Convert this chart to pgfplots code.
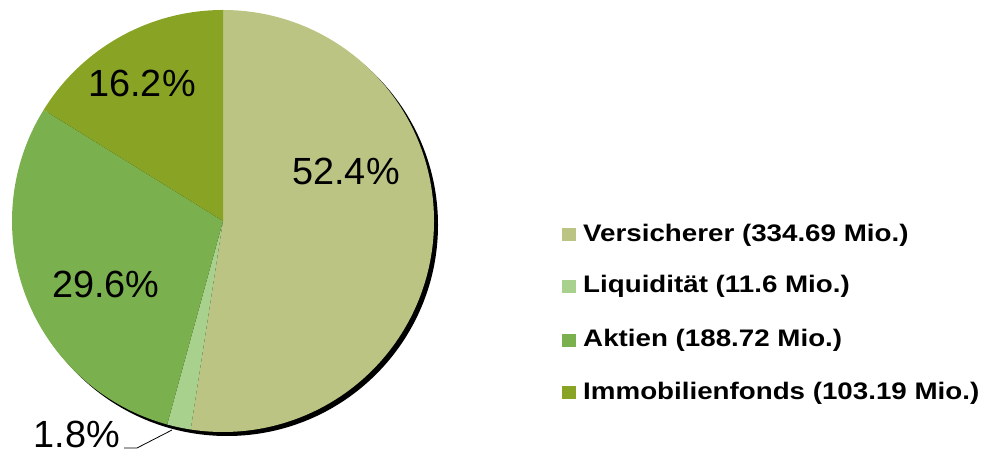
\documentclass[border=0pt]{standalone}
\usepackage{pgfplots}
\pgfplotsset{compat=1.18}
\usepackage{fontspec}
\setmainfont{Liberation Sans}
\definecolor{cVers}{RGB}{188,196,132}
\definecolor{cLiq}{RGB}{169,209,142}
\definecolor{cAkt}{RGB}{122,176,78}
\definecolor{cImm}{RGB}{137,164,36}
% data (Mio.)
\def\vA{334.69}
\def\vB{11.6}
\def\vC{188.72}
\def\vD{103.19}
\pgfmathsetmacro{\tot}{\vA+\vB+\vC+\vD}
\pgfmathsetmacro{\aO}{90}
\pgfmathsetmacro{\aA}{\aO-360*(\vA/\tot)}
\pgfmathsetmacro{\aB}{\aA-360*(\vB/\tot)}
\pgfmathsetmacro{\aC}{\aB-360*(\vC/\tot)}
\pgfmathsetmacro{\aD}{\aC-360*(\vD/\tot)}
\tikzset{legtext/.style={anchor=base west, inner sep=0pt, xscale=1.16, font=\fontsize{24}{28}\selectfont\bfseries}}
\begin{document}
\begin{tikzpicture}
\begin{axis}[
  x=1bp, y=1bp,
  xmin=0, xmax=987, ymin=0, ymax=453,
  y dir=reverse,
  hide axis, clip=false,
]
\path (axis cs:0,0) rectangle (axis cs:987,453);
% shadow
\fill[black] (axis cs:227,225) circle[radius=211bp];
% slices
\fill[cVers] (axis cs:223,221) -- +(\aO:211bp) arc[start angle=\aO, end angle=\aA, radius=211bp] -- cycle;
\fill[cLiq]  (axis cs:223,221) -- +(\aA:211bp) arc[start angle=\aA, end angle=\aB, radius=211bp] -- cycle;
\fill[cAkt]  (axis cs:223,221) -- +(\aB:211bp) arc[start angle=\aB, end angle=\aC, radius=211bp] -- cycle;
\fill[cImm]  (axis cs:223,221) -- +(\aC:211bp) arc[start angle=\aC, end angle=\aD, radius=211bp] -- cycle;
% labels
\node[anchor=base, inner sep=0pt, font=\fontsize{38}{44}\selectfont] at (axis cs:346,185) {52.4\%};
\node[anchor=base, inner sep=0pt, font=\fontsize{38}{44}\selectfont] at (axis cs:106,298) {29.6\%};
\node[anchor=base, inner sep=0pt, font=\fontsize{38}{44}\selectfont] at (axis cs:142,97) {16.2\%};
\node[anchor=base, inner sep=0pt, font=\fontsize{38}{44}\selectfont] at (axis cs:77,447) {1.8\%};
\draw[black, line width=0.8bp] (axis cs:124,448) -- (axis cs:137,448) -- (axis cs:172,430);
% legend
\fill[cVers] (axis cs:562,228) rectangle (axis cs:576,241);
\fill[cLiq]  (axis cs:562,280) rectangle (axis cs:576,293);
\fill[cAkt]  (axis cs:562,334) rectangle (axis cs:576,347);
\fill[cImm]  (axis cs:562,386) rectangle (axis cs:576,399);
\node[legtext] at (axis cs:583,242) {Versicherer (334.69 Mio.)};
\node[legtext] at (axis cs:583,293) {Liquidität (11.6 Mio.)};
\node[legtext] at (axis cs:583,347) {Aktien (188.72 Mio.)};
\node[legtext] at (axis cs:583,399) {Immobilienfonds (103.19 Mio.)};
\end{axis}
\end{tikzpicture}
\end{document}
